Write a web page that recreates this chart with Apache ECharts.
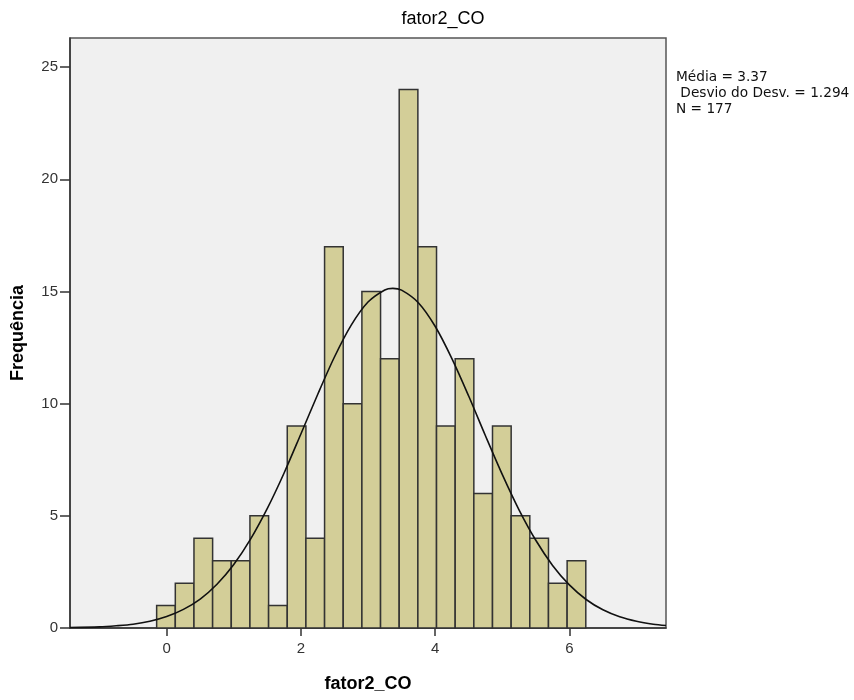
<!DOCTYPE html>
<html>
<head>
<meta charset="utf-8">
<script src="https://cdn.jsdelivr.net/npm/echarts@6/dist/echarts.min.js"></script>
<style>
  html, body { margin: 0; padding: 0; background: #fff; }
  #chart { width: 854px; height: 700px; }
</style>
</head>
<body>
<div id="chart"></div>
<script>
// histogram bins (count per bin)
const counts = [1, 2, 4, 3, 3, 5, 1, 9, 4, 17, 10, 15, 12, 24, 17, 9, 12, 6, 9, 5, 4, 2, 3]
const binLeft = -0.149
const binWidth = 0.278

// normal curve
const curveX = [-1.44, -1, -0.75, -0.5, -0.25, 0, 0.25, 0.5, 0.75, 1, 1.25, 1.5, 1.75, 2, 2.25, 2.5, 2.75, 3, 3.25, 3.37,
  3.5, 3.75, 4, 4.25, 4.5, 4.75, 5, 5.25, 5.5, 5.75, 6, 6.25, 6.5, 6.75, 7, 7.25, 7.44]
const curveY = [0.02, 0.05, 0.10, 0.17, 0.30, 0.51, 0.83, 1.29, 1.95, 2.83, 3.96, 5.33, 6.91, 8.65, 10.41, 12.08, 13.50, 14.53, 15.07, 15.14,
  15.06, 14.50, 13.45, 12.01, 10.34, 8.57, 6.85, 5.27, 3.91, 2.79, 1.92, 1.27, 0.81, 0.50, 0.30, 0.17, 0.11]

const xTicks = [0, 2, 4, 6]
const yTicks = [0, 5, 10, 15, 20, 25]
const statsLines = ['Média = 3.37', ' Desvio do Desv. = 1.294', 'N = 177']

const font = '"Liberation Sans", Arial, sans-serif'

const bars = counts.map((c, i) => [binLeft + i * binWidth, binLeft + (i + 1) * binWidth, c])
const curve = curveX.map((x, i) => [x, curveY[i]])

const chart = echarts.init(document.getElementById('chart'))
chart.setOption({
  animation: false,
  backgroundColor: '#fff',
  title: {
    text: 'fator2_CO',
    left: 438,
    textAlign: 'center',
    top: 5,
    textStyle: { fontFamily: font, fontSize: 18, fontWeight: 'normal', color: '#000' }
  },
  grid: {
    left: 70, right: 188, top: 38, bottom: 72,
    outerBoundsMode: 'none',
    containLabel: false,
    show: true,
    backgroundColor: '#f0f0f0',
    borderColor: '#555',
    borderWidth: 1.5
  },
  xAxis: {
    type: 'value',
    min: -1.44,
    max: 7.44,
    name: 'fator2_CO',
    nameLocation: 'middle',
    nameGap: 47,
    nameTextStyle: { fontFamily: font, fontSize: 18, fontWeight: 'bold', color: '#000' },
    splitLine: { show: false },
    axisLine: { show: true, onZero: false, lineStyle: { color: '#333', width: 1.5 } },
    axisTick: { show: true, length: 8, customValues: xTicks, lineStyle: { color: '#333', width: 1.5 } },
    axisLabel: { customValues: xTicks, fontFamily: font, fontSize: 15, color: '#333', margin: 13 }
  },
  yAxis: {
    type: 'value',
    min: 0,
    max: 26.3,
    name: 'Frequência',
    nameLocation: 'middle',
    nameGap: 43,
    nameRotate: 90,
    nameTextStyle: { fontFamily: font, fontSize: 18, fontWeight: 'bold', color: '#000' },
    splitLine: { show: false },
    axisLine: { show: true, onZero: false, lineStyle: { color: '#333', width: 1.5 } },
    axisTick: { show: true, length: 10, customValues: yTicks, lineStyle: { color: '#333', width: 1.5 } },
    axisLabel: { customValues: yTicks, fontFamily: font, fontSize: 15, color: '#333', margin: 12 }
  },
  series: [
    {
      type: 'custom',
      data: bars,
      encode: { x: [0, 1], y: 2 },
      renderItem: function (params, api) {
        const p0 = api.coord([api.value(0), api.value(2)])
        const p1 = api.coord([api.value(1), 0])
        return {
          type: 'rect',
          shape: { x: p0[0], y: p0[1], width: p1[0] - p0[0], height: p1[1] - p0[1] },
          style: { fill: '#d3ce98', stroke: '#333', lineWidth: 1.5 }
        }
      },
      z: 2
    },
    {
      type: 'line',
      data: curve,
      smooth: 0.3,
      showSymbol: false,
      lineStyle: { color: '#111', width: 1.6 },
      z: 3
    }
  ],
  graphic: [
    {
      type: 'text',
      left: 676,
      top: 69,
      style: {
        text: statsLines.join('\n'),
        fontFamily: '"DejaVu Sans", sans-serif',
        fontSize: 13.7,
        lineHeight: 16,
        fill: '#111'
      }
    }
  ]
})
</script>
</body>
</html>
